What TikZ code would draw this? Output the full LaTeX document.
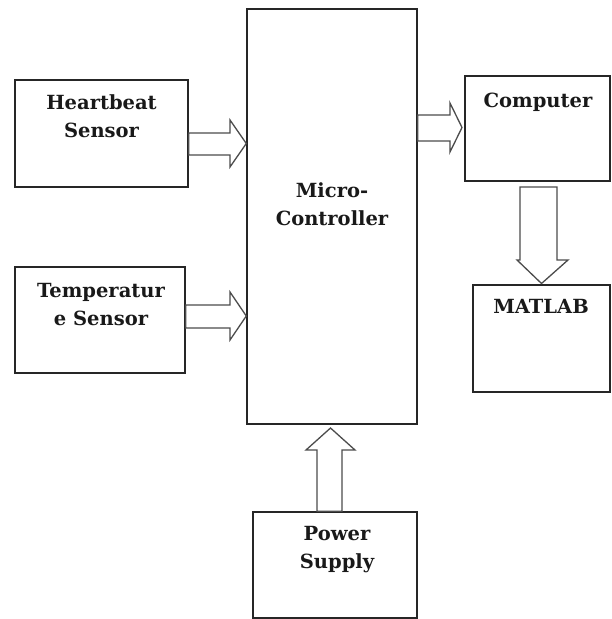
\documentclass[tikz,border=0pt]{standalone}
\usepackage{fontspec}
\setmainfont{DejaVu Serif}
\usetikzlibrary{calc}
\tikzset{
  blockbox/.style={draw=black!85, line width=1.4pt, rectangle, inner sep=0pt},
  blocktext/.style={font=\bfseries\fontsize{19.5}{28}\selectfont, align=center, inner sep=0pt, anchor=base, text=black!90},
  blockarrow/.style={draw=black!70, line width=1.3pt, fill=white, line join=miter},
}
\begin{document}
\begin{tikzpicture}[x=1pt,y=-1pt]
\useasboundingbox (0,0) rectangle (611,619);
% boxes
\node[blockbox, minimum width=173pt, minimum height=107pt] (hb) at (101.5,133.5) {};
\node[blockbox, minimum width=170pt, minimum height=106pt] (tp) at (100,320) {};
\node[blockbox, minimum width=170pt, minimum height=415pt] (mc) at (332,216.5) {};
\node[blockbox, minimum width=145pt, minimum height=105pt] (cp) at (537.5,128.5) {};
\node[blockbox, minimum width=137pt, minimum height=107pt] (ml) at (541.5,338.5) {};
\node[blockbox, minimum width=164pt, minimum height=106pt] (ps) at (335,565) {};
% texts
\node[blocktext] (hbt) at (101.5,109) {Heartbeat};
\node[blocktext] (hbt2) at (101.5,137) {Sensor};
\node[blocktext] (tpt) at (101,297) {Temperatur};
\node[blocktext] (tpt2) at (101,325) {e Sensor};
\node[blocktext] (mct) at (332,197) {Micro-};
\node[blocktext] (mct2) at (332,225) {Controller};
\node[blocktext] (cpt) at (538,107) {Computer};
\node[blocktext] (mlt) at (541,313) {MATLAB};
\node[blocktext] (pst) at (337,540) {Power};
\node[blocktext] (pst2) at (337,568) {Supply};
% block arrows
\draw[blockarrow] (hb.east |- 0,133) -- (230,133) -- (230,120) -- (mc.west |- 0,143.5)
  -- (230,167) -- (230,155) -- (hb.east |- 0,155) -- cycle;
\draw[blockarrow] (tp.east |- 0,305) -- (230,305) -- (230,292) -- (mc.west |- 0,316)
  -- (230,340) -- (230,328) -- (tp.east |- 0,328) -- cycle;
\draw[blockarrow] (mc.east |- 0,115) -- (450,115) -- (450,103) -- (462,127.5)
  -- (450,152) -- (450,141) -- (mc.east |- 0,141) -- cycle;
\draw[blockarrow] (520,187) -- (520,260) -- (517,260) -- (ml.north |- 0,283.5)
  -- (568,260) -- (557,260) -- (557,187) -- cycle;
\draw[blockarrow] (317,0 |- ps.north) -- (317,450) -- (306,450) -- (330.5,428)
  -- (355,450) -- (342,450) -- (342,0 |- ps.north) -- cycle;
\end{tikzpicture}
\end{document}
